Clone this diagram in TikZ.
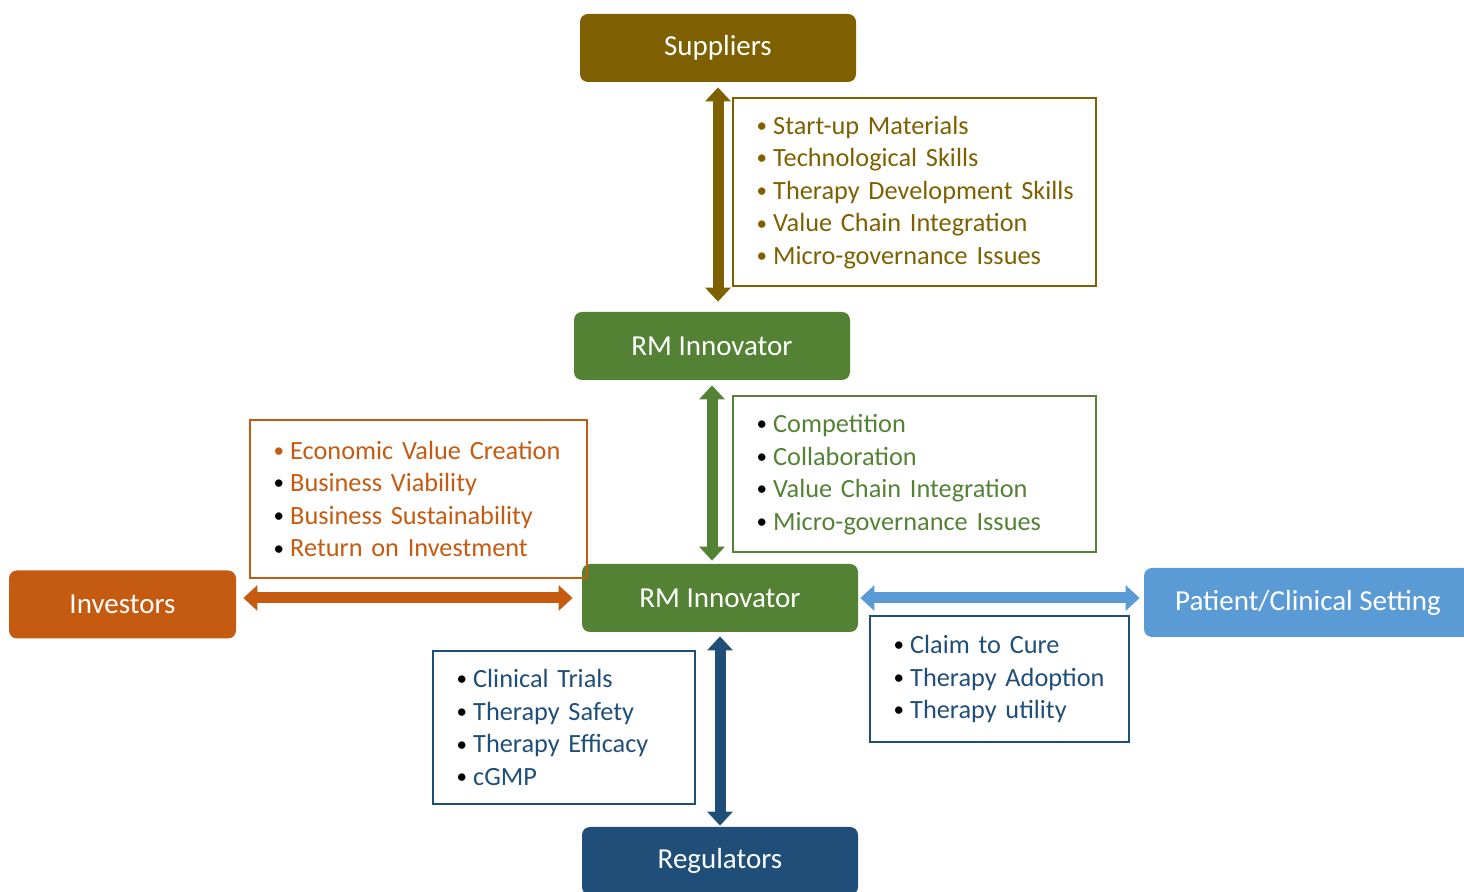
\documentclass[tikz,border=0pt]{standalone}
\usepackage{fontspec}
\setmainfont{Carlito}
\usetikzlibrary{arrows.meta}
\definecolor{supbrown}{HTML}{7F6000}
\definecolor{innogreen}{HTML}{548235}
\definecolor{invorange}{HTML}{C55A11}
\definecolor{patblue}{HTML}{5B9BD5}
\definecolor{regblue}{HTML}{1F4E79}
\newcommand{\itm}[2]{\mbox{\makebox[8.3pt][l]{\raisebox{0.9pt}{\textcolor{#1}{\fontsize{10.5}{10}\selectfont •}}}#2}}
\begin{document}
\begin{tikzpicture}[x=0.5pt,y=-0.5pt,
  actor/.style={fill=#1,text=white,rounded corners=4pt,minimum width=138pt,minimum height=34pt,
    font=\fontsize{14.5}{17}\selectfont},
  listbox/.style={draw=#1,line width=1pt,text=#1,inner xsep=11.8pt,align=left,
    font=\fontsize{13.15}{16.3}\selectfont},
  dbl/.style={draw=#1,line width=5.5pt,{Triangle[width=12.5pt,length=7pt]}-{Triangle[width=12.5pt,length=7pt]}}]
  \useasboundingbox (0,0) rectangle (1464,892);
  % stakeholders
  \node[actor=supbrown] (supp) at (718,48) {Suppliers};
  \node[actor=innogreen] (inno1) at (712,346) {RM Innovator};
  \node[actor=innogreen] (inno2) at (720,598) {RM Innovator};
  \node[actor=invorange,minimum width=113.5pt] (inv) at (122.5,604.5) {Investors};
  \node[actor=patblue,minimum width=164pt,minimum height=34.5pt] (pat) at (1308,602.5) {Patient/Clinical Setting};
  \node[actor=regblue] (reg) at (720,861) {Regulators};
  % issue lists
  \node[listbox=supbrown,text width=157.9pt,minimum height=94pt] (suplist) at (914.5,192.5)
    {\itm{supbrown}{Start-up Materials}\\ \itm{supbrown}{Technological Skills}\\
     \itm{supbrown}{Therapy Development Skills}\\ \itm{supbrown}{Value Chain Integration}\\
     \itm{supbrown}{Micro-governance Issues}};
  \node[listbox=innogreen,text width=157.9pt,minimum height=78pt] (innolist) at (914.5,474.5)
    {\itm{black}{Competition}\\ \itm{black}{Collaboration}\\
     \itm{black}{Value Chain Integration}\\ \itm{black}{Micro-governance Issues}};
  \node[listbox=invorange,text width=144.9pt,minimum height=79pt] (invlist) at (418.5,499)
    {\itm{invorange}{Economic Value Creation}\\ \itm{black}{Business Viability}\\
     \itm{black}{Business Sustainability}\\ \itm{black}{Return on Investment}};
  \node[listbox=regblue,text width=107.4pt,minimum height=76.5pt] (reglist) at (564,727.5)
    {\itm{black}{Clinical Trials}\\ \itm{black}{Therapy Safety}\\
     \itm{black}{Therapy Efficacy}\\ \itm{black}{cGMP}};
  \node[listbox=regblue,text width=105.9pt,minimum height=63pt] (patlist) at (999.5,679)
    {\itm{black}{Claim to Cure}\\ \itm{black}{Therapy Adoption}\\ \itm{black}{Therapy utility}};
  % two-way arrows
  \draw[dbl=supbrown,shorten <=2.5pt,shorten >=5pt] (supp.south) -- (supp.south |- inno1.north);
  \draw[dbl=innogreen,shorten <=2.5pt,shorten >=1.5pt] (inno1.south) -- (inno1.south |- inno2.north);
  \draw[dbl=invorange,shorten <=3.5pt,shorten >=4.5pt] (inno2.west -| inv.east) -- (inno2.west);
  \draw[dbl=patblue,shorten <=1pt,shorten >=2pt] (inno2.east) -- (inno2.east -| pat.west);
  \draw[dbl=regblue,shorten <=2pt,shorten >=0.5pt] (inno2.south) -- (reg.north);
\end{tikzpicture}
\end{document}
